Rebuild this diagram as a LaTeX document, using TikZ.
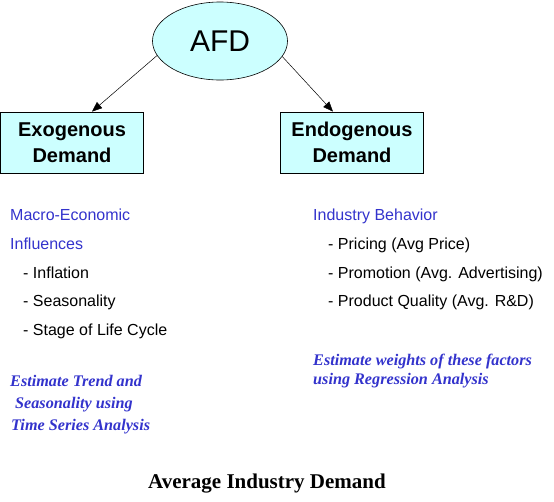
\documentclass[tikz,border=0pt]{standalone}
\usepackage{fontspec}
\setmainfont{Liberation Serif}
\newfontfamily\arialf{Liberation Sans}
\usetikzlibrary{arrows.meta,shapes.geometric}
\definecolor{cyanfill}{HTML}{CCFFFF}
\definecolor{txtblue}{HTML}{3333CC}
\tikzset{
  boxnode/.style={draw=black, fill=cyanfill, line width=0.8pt, minimum width=143pt, minimum height=61pt, inner sep=0pt, align=center, font=\arialf\bfseries\fontsize{20}{26}\selectfont},
  plain/.style={anchor=base west, inner sep=0pt, font=\arialf\fontsize{16}{16}\selectfont},
  bluetxt/.style={plain, text=txtblue},
  itxt/.style={anchor=base west, inner sep=0pt, text=txtblue, font=\bfseries\itshape\fontsize{16.2}{16.2}\selectfont},
  conn/.style={draw=black, line width=0.5pt, -{Triangle[length=10pt,width=8pt]}}
}
\begin{document}
\begin{tikzpicture}[x=1pt,y=-1pt]
\useasboundingbox (0,0) rectangle (554,501);
\node[draw=black, fill=cyanfill, ellipse, line width=0.6pt, minimum width=135pt, minimum height=78pt, inner sep=0pt, font=\arialf\fontsize{30}{30}\selectfont] (afd) at (220,41) {AFD};
\node[boxnode] (exo) at (72,142.5) {Exogenous\\Demand};
\node[boxnode] (endo) at (352,142.5) {Endogenous\\Demand};
\coordinate (exotop) at ([xshift=20pt]exo.north);
\coordinate (endotop) at ([xshift=-19pt]endo.north);
\draw[conn] (afd.193) -- (exotop);
\draw[conn] (afd.346) -- (endotop);
\node[bluetxt] (m1) at (10,220.7) {Macro-Economic};
\node[bluetxt] (m2) at (10,249.4) {Influences};
\node[plain] (m3) at (23,278) {- Inflation};
\node[plain] (m4) at (23,306.7) {- Seasonality};
\node[plain] (m5) at (23,335.5) {- Stage of Life Cycle};
\node[bluetxt] (r1) at (313,220.7) {Industry Behavior};
\node[plain] (r2) at (328,249.4) {- Pricing (Avg Price)};
\node[plain] (r3) at (328,278) {- Promotion (Avg. Advertising)};
\node[plain] (r4) at (328,306.7) {- Product Quality (Avg. R\&D)};
\node[itxt] (e1) at (10,386.7) {Estimate Trend and};
\node[itxt] (e2) at (15,408.3) {Seasonality using};
\node[itxt] (e3) at (11,430) {Time Series Analysis};
\node[itxt] (w1) at (313,365) {Estimate weights of these factors};
\node[itxt] (w2) at (313,384) {using Regression Analysis};
\node[anchor=base, inner sep=0pt, font=\bfseries\fontsize{21}{21}\selectfont] (title) at (267,488) {Average Industry Demand};
\end{tikzpicture}
\end{document}
